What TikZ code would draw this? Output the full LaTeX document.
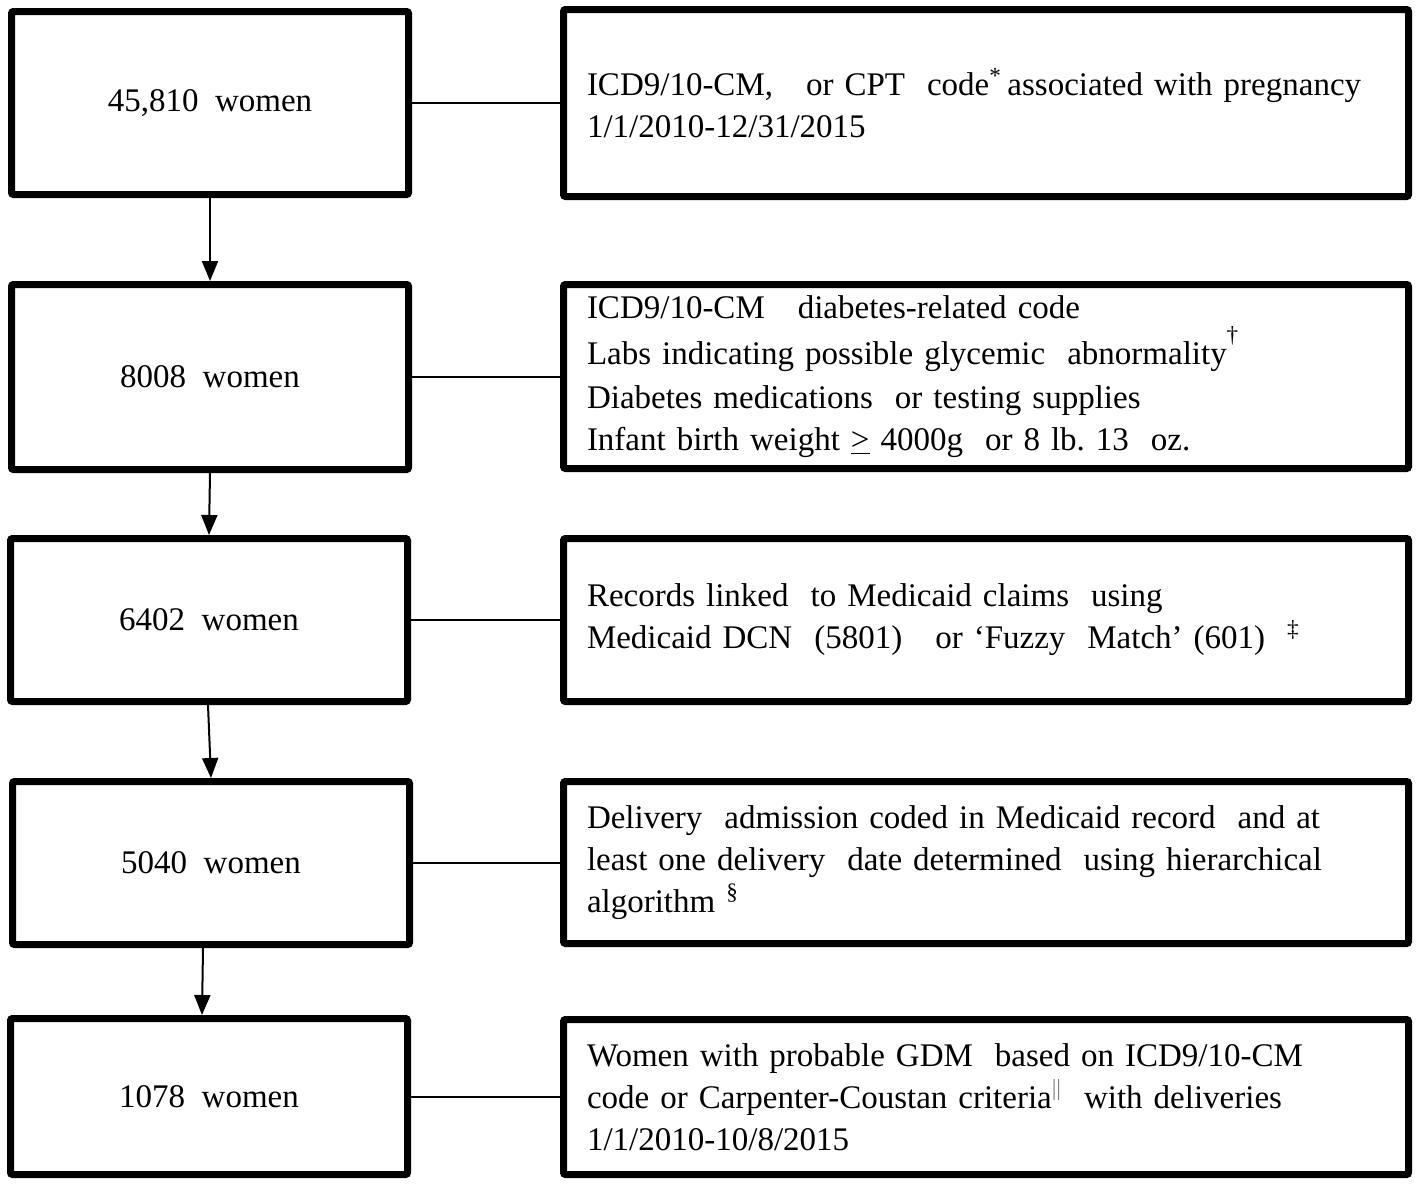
\documentclass[tikz,border=0pt]{standalone}
\usepackage{fontspec}
\setmainfont{Liberation Serif}
\usetikzlibrary{arrows.meta}
\begin{document}
\begin{tikzpicture}[x=0.5pt,y=-0.5pt,
 box/.style={draw, line width=3.5pt, rounded corners=1pt, inner sep=0pt, font=\fontsize{16.5}{21}\selectfont},
 lbox/.style={box, minimum width=198.5pt, align=center},
 rbox/.style={box, minimum width=422.5pt, text width=399pt, inner xsep=11.75pt, align=left},
 link/.style={line width=1pt},
 flow/.style={line width=1pt, -{Triangle[width=8pt,length=10pt]}}]
\useasboundingbox (0,0) rectangle (1418,1183);
% left column
\node[lbox, minimum height=91.5pt] (L1) at (210,103) {45,810~~women};
\node[lbox, minimum height=92.5pt] (L2) at (210,377) {8008~~women};
\node[lbox, minimum height=81.5pt] (L3) at (209,620) {6402~~women};
\node[lbox, minimum height=81.5pt] (L4) at (211,863) {5040~~women};
\node[lbox, minimum height=78pt] (L5) at (209,1096.5) {1078~~women};
% right column
\node[rbox, minimum height=93.5pt] (R1) at (986,103) {ICD9/10-CM,~~ or CPT~ code\textsuperscript{*}\,associated with pregnancy\\1/1/2010-12/31/2015};
\node[rbox, minimum height=92pt] (R2) at (986,376.5) {ICD9/10-CM~~ diabetes-related code\\[2pt]Labs indicating possible glycemic~ abnormality\textsuperscript{\raisebox{0.9ex}{†}}\\[1pt]Diabetes medications~ or testing supplies\\Infant birth weight \underline{>} 4000g~ or 8 lb.~13~ oz.};
\node[rbox, minimum height=81.5pt] (R3) at (986,620) {Records linked~ to Medicaid claims~ using\\Medicaid DCN~ (5801)~~ or ‘Fuzzy~ Match’ (601)~ \textsuperscript{‡}};
\node[rbox, minimum height=81pt] (R4) at (986,862.5) {Delivery~ admission coded in Medicaid record~ and at\\least one delivery~ date determined~ using hierarchical\\algorithm \textsuperscript{§}};
\node[rbox, minimum height=77.5pt] (R5) at (986,1097) {Women with probable GDM~ based on ICD9/10-CM\\code or Carpenter-Coustan criteria\textsuperscript{\color{gray}||}~ with deliveries\\1/1/2010-10/8/2015};
% horizontal links
\draw[link] (L1.east) -- (L1.east -| R1.west);
\draw[link] (L2.east) -- (L2.east -| R2.west);
\draw[link] (L3.east) -- (L3.east -| R3.west);
\draw[link] (L4.east) -- (L4.east -| R4.west);
\draw[link] (L5.east) -- (L5.east -| R5.west);
% flow arrows
\draw[flow] (L1.south) -- (L2.north);
\draw[flow] (L2.south) -- (L3.north);
\draw[flow] ([xshift=-0.5pt]L3.south) -- (L4.north);
\draw[flow] ([xshift=-4pt]L4.south) -- ([xshift=-3.5pt]L5.north);
\end{tikzpicture}
\end{document}
